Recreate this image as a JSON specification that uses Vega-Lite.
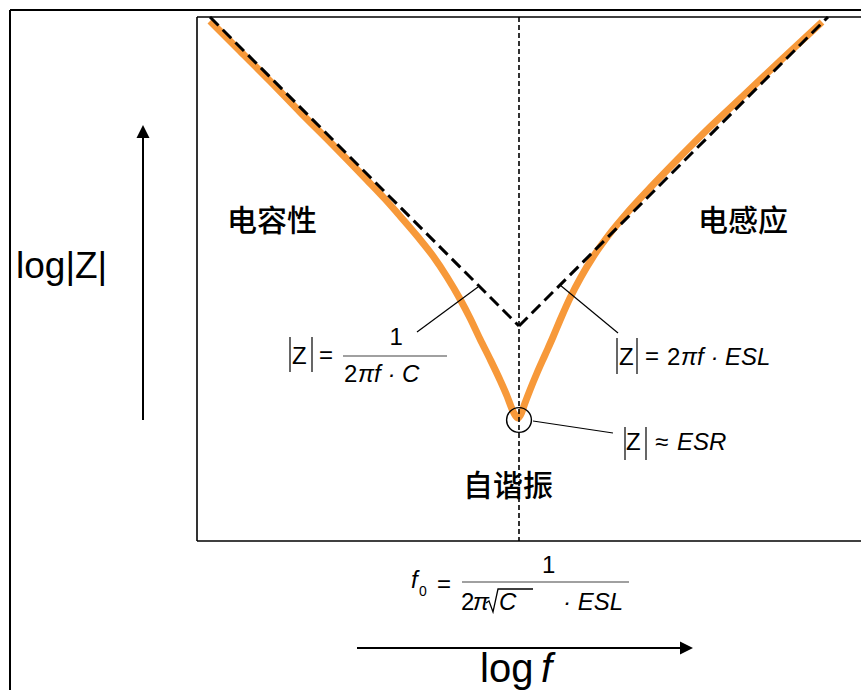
{
  "$schema": "https://vega.github.io/schema/vega-lite/v6.json",
  "width": 861,
  "height": 690,
  "padding": 0,
  "autosize": "none",
  "background": "white",
  "config": {"view": {"stroke": null}},
  "datasets": {
    "curve": [
      {"x": 210, "y": 21}, {"x": 240, "y": 51}, {"x": 270, "y": 81}, {"x": 300, "y": 112},
      {"x": 333, "y": 145}, {"x": 367, "y": 180}, {"x": 385, "y": 199}, {"x": 400, "y": 216},
      {"x": 418, "y": 237}, {"x": 433, "y": 256}, {"x": 447, "y": 277}, {"x": 460, "y": 299},
      {"x": 470, "y": 318}, {"x": 480, "y": 339}, {"x": 490, "y": 359}, {"x": 500, "y": 380},
      {"x": 507, "y": 396}, {"x": 512, "y": 409}, {"x": 515, "y": 415}, {"x": 518, "y": 418},
      {"x": 521, "y": 414}, {"x": 525, "y": 403}, {"x": 530, "y": 390}, {"x": 537, "y": 373},
      {"x": 545, "y": 355}, {"x": 553, "y": 337}, {"x": 561, "y": 318}, {"x": 570, "y": 298},
      {"x": 581, "y": 277}, {"x": 593, "y": 257}, {"x": 608, "y": 236}, {"x": 627, "y": 213},
      {"x": 650, "y": 188}, {"x": 677, "y": 160}, {"x": 710, "y": 127}, {"x": 743, "y": 96},
      {"x": 780, "y": 61}, {"x": 822, "y": 22}
    ],
    "segments": [
      {"kind": "frame", "x": 10, "y": 10, "x2": 10, "y2": 690},
      {"kind": "frame", "x": 10, "y": 10, "x2": 861, "y2": 10},
      {"kind": "box", "x": 197, "y": 17, "x2": 197, "y2": 541},
      {"kind": "box", "x": 197, "y": 17, "x2": 861, "y2": 17},
      {"kind": "box", "x": 197, "y": 541, "x2": 861, "y2": 541},
      {"kind": "guide", "x": 519, "y": 17, "x2": 519, "y2": 541},
      {"kind": "asymptote", "x": 210, "y": 17, "x2": 519, "y2": 326},
      {"kind": "asymptote", "x": 519, "y": 326, "x2": 828, "y2": 17},
      {"kind": "leader", "x": 478, "y": 287, "x2": 417, "y2": 332},
      {"kind": "leader", "x": 560, "y": 285, "x2": 618, "y2": 333},
      {"kind": "leader", "x": 533, "y": 421, "x2": 613, "y2": 433},
      {"kind": "bar", "x": 290, "y": 337, "x2": 290, "y2": 372},
      {"kind": "bar", "x": 312, "y": 337, "x2": 312, "y2": 372},
      {"kind": "bar", "x": 617, "y": 338, "x2": 617, "y2": 374},
      {"kind": "bar", "x": 637, "y": 338, "x2": 637, "y2": 374},
      {"kind": "bar", "x": 625, "y": 427, "x2": 625, "y2": 460},
      {"kind": "bar", "x": 646, "y": 427, "x2": 646, "y2": 460},
      {"kind": "fraction", "x": 343, "y": 356, "x2": 447, "y2": 356},
      {"kind": "fraction", "x": 462, "y": 582, "x2": 629, "y2": 582},
      {"kind": "arrow", "x": 143, "y": 420, "x2": 143, "y2": 137},
      {"kind": "arrow", "x": 357, "y": 648, "x2": 681, "y2": 648}
    ],
    "heads": [
      {"dir": "up", "x": 143, "y": 131.5},
      {"dir": "right", "x": 686.5, "y": 648}
    ],
    "resonance": [{"x": 519, "y": 420}],
    "radical": [
      {"i": 0, "x": 486, "y": 603}, {"i": 1, "x": 489, "y": 601}, {"i": 2, "x": 493, "y": 612},
      {"i": 3, "x": 498, "y": 589}, {"i": 4, "x": 533, "y": 589}
    ],
    "texts": [
      {"role": "region", "x": 272, "y": 222, "text": "电容性"},
      {"role": "region", "x": 743, "y": 222, "text": "电感应"},
      {"role": "region", "x": 508, "y": 487, "text": "自谐振"},
      {"role": "math", "x": 292, "y": 364, "text": "Z"},
      {"role": "math", "x": 319, "y": 363, "text": "="},
      {"role": "math", "x": 389.5, "y": 345, "text": "1"},
      {"role": "math", "x": 344, "y": 382, "text": "2"},
      {"role": "math", "x": 619, "y": 365, "text": "Z"},
      {"role": "math", "x": 645, "y": 364, "text": "="},
      {"role": "math", "x": 667, "y": 365, "text": "2"},
      {"role": "math", "x": 626, "y": 450, "text": "Z"},
      {"role": "math", "x": 655, "y": 450, "text": "≈"},
      {"role": "math", "x": 437, "y": 592, "text": "="},
      {"role": "math", "x": 542, "y": 573, "text": "1"},
      {"role": "math", "x": 461, "y": 610, "text": "2"},
      {"role": "math_it", "x": 358, "y": 382, "text": "πf · C"},
      {"role": "math_it", "x": 681, "y": 365, "text": "πf · ESL"},
      {"role": "math_it", "x": 677, "y": 450, "text": "ESR"},
      {"role": "math_it", "x": 411, "y": 588, "text": "f"},
      {"role": "math_it", "x": 473, "y": 610, "text": "π"},
      {"role": "math_it", "x": 499, "y": 610, "text": "C"},
      {"role": "math_it", "x": 563, "y": 610, "text": "· ESL"},
      {"role": "sub", "x": 419, "y": 596, "text": "0"},
      {"role": "ylabel", "x": 16, "y": 278, "text": "log|Z|"},
      {"role": "xlabel", "x": 480, "y": 682, "text": "log"},
      {"role": "xlabel_it", "x": 541, "y": 682, "text": "f"}
    ]
  },
  "encoding": {
    "x": {"field": "x", "type": "quantitative", "axis": null, "scale": {"domain": [0, 861], "nice": false, "zero": false}},
    "y": {"field": "y", "type": "quantitative", "axis": null, "scale": {"domain": [0, 690], "nice": false, "zero": false, "reverse": true}}
  },
  "layer": [
    {
      "data": {"name": "segments"},
      "transform": [{"filter": "datum.kind === 'frame'"}],
      "mark": {"type": "rule", "stroke": "#000000", "strokeWidth": 2},
      "encoding": {"x2": {"field": "x2"}, "y2": {"field": "y2"}}
    },
    {
      "data": {"name": "segments"},
      "transform": [{"filter": "datum.kind === 'box'"}],
      "mark": {"type": "rule", "stroke": "#000000", "strokeWidth": 1.6},
      "encoding": {"x2": {"field": "x2"}, "y2": {"field": "y2"}}
    },
    {
      "data": {"name": "curve"},
      "mark": {"type": "line", "stroke": "#f7993a", "strokeWidth": 7, "interpolate": "monotone", "strokeJoin": "round"},
      "encoding": {"order": {"field": "x", "type": "quantitative"}}
    },
    {
      "data": {"name": "segments"},
      "transform": [{"filter": "datum.kind === 'guide'"}],
      "mark": {"type": "rule", "stroke": "#000000", "strokeWidth": 1.6, "strokeDash": [5, 3]},
      "encoding": {"x2": {"field": "x2"}, "y2": {"field": "y2"}}
    },
    {
      "data": {"name": "segments"},
      "transform": [{"filter": "datum.kind === 'asymptote'"}],
      "mark": {"type": "rule", "stroke": "#000000", "strokeWidth": 3, "strokeDash": [12, 6]},
      "encoding": {"x2": {"field": "x2"}, "y2": {"field": "y2"}}
    },
    {
      "data": {"name": "segments"},
      "transform": [{"filter": "datum.kind === 'leader' || datum.kind === 'bar'"}],
      "mark": {"type": "rule", "stroke": "#000000", "strokeWidth": 1.2},
      "encoding": {"x2": {"field": "x2"}, "y2": {"field": "y2"}}
    },
    {
      "data": {"name": "segments"},
      "transform": [{"filter": "datum.kind === 'fraction'"}],
      "mark": {"type": "rule", "stroke": "#808080", "strokeWidth": 1.3},
      "encoding": {"x2": {"field": "x2"}, "y2": {"field": "y2"}}
    },
    {
      "data": {"name": "segments"},
      "transform": [{"filter": "datum.kind === 'arrow'"}],
      "mark": {"type": "rule", "stroke": "#000000", "strokeWidth": 2},
      "encoding": {"x2": {"field": "x2"}, "y2": {"field": "y2"}}
    },
    {
      "data": {"name": "heads"},
      "mark": {"type": "point", "filled": true, "color": "#000000", "size": 169, "opacity": 1},
      "encoding": {
        "shape": {"field": "dir", "type": "nominal", "legend": null,
          "scale": {"domain": ["up", "right"], "range": ["M0,-1L1,1L-1,1Z", "M1,0L-1,1L-1,-1Z"]}}
      }
    },
    {
      "data": {"name": "resonance"},
      "mark": {"type": "point", "shape": "circle", "filled": false, "stroke": "#000000", "strokeWidth": 1.4, "size": 616, "opacity": 1}
    },
    {
      "data": {"name": "radical"},
      "mark": {"type": "line", "stroke": "#000000", "strokeWidth": 1.3, "interpolate": "linear"},
      "encoding": {"order": {"field": "i", "type": "quantitative"}}
    },
    {
      "data": {"name": "texts"},
      "transform": [{"filter": "datum.role === 'region'"}],
      "mark": {"type": "text", "font": "Noto Sans CJK SC", "fontSize": 30, "fontWeight": 500, "align": "center", "baseline": "middle", "color": "#000000"},
      "encoding": {"text": {"field": "text"}}
    },
    {
      "data": {"name": "texts"},
      "transform": [{"filter": "datum.role === 'math'"}],
      "mark": {"type": "text", "font": "Liberation Sans", "fontSize": 24, "align": "left", "baseline": "alphabetic", "color": "#000000"},
      "encoding": {"text": {"field": "text"}}
    },
    {
      "data": {"name": "texts"},
      "transform": [{"filter": "datum.role === 'math_it'"}],
      "mark": {"type": "text", "font": "Liberation Sans", "fontSize": 24, "fontStyle": "italic", "align": "left", "baseline": "alphabetic", "color": "#000000"},
      "encoding": {"text": {"field": "text"}}
    },
    {
      "data": {"name": "texts"},
      "transform": [{"filter": "datum.role === 'sub'"}],
      "mark": {"type": "text", "font": "Liberation Sans", "fontSize": 14, "align": "left", "baseline": "alphabetic", "color": "#000000"},
      "encoding": {"text": {"field": "text"}}
    },
    {
      "data": {"name": "texts"},
      "transform": [{"filter": "datum.role === 'ylabel'"}],
      "mark": {"type": "text", "font": "Liberation Sans", "fontSize": 37, "align": "left", "baseline": "alphabetic", "color": "#000000"},
      "encoding": {"text": {"field": "text"}}
    },
    {
      "data": {"name": "texts"},
      "transform": [{"filter": "datum.role === 'xlabel'"}],
      "mark": {"type": "text", "font": "Liberation Sans", "fontSize": 40, "align": "left", "baseline": "alphabetic", "color": "#000000"},
      "encoding": {"text": {"field": "text"}}
    },
    {
      "data": {"name": "texts"},
      "transform": [{"filter": "datum.role === 'xlabel_it'"}],
      "mark": {"type": "text", "font": "Liberation Sans", "fontSize": 40, "fontStyle": "italic", "align": "left", "baseline": "alphabetic", "color": "#000000"},
      "encoding": {"text": {"field": "text"}}
    }
  ]
}
